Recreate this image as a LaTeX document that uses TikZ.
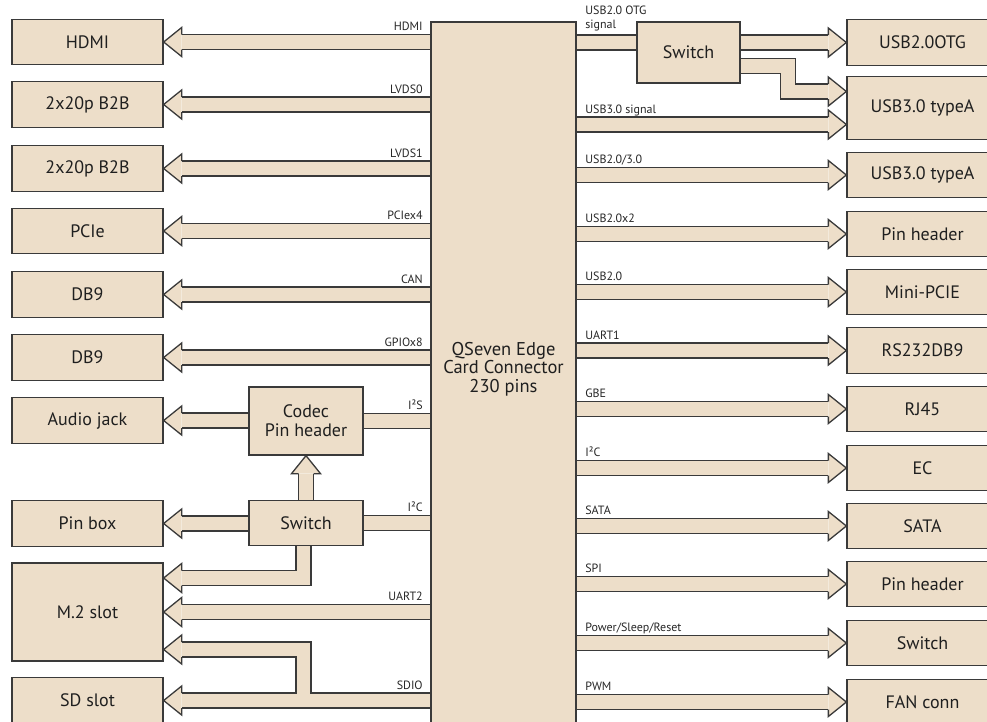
\documentclass[tikz,border=0pt]{standalone}
\usepackage{fontspec}
\setmainfont{PT Sans}
\usetikzlibrary{backgrounds}
\definecolor{boxfill}{RGB}{237,222,201}
\definecolor{boxline}{RGB}{58,58,58}
\tikzset{
  blk/.style={draw=boxline, fill=boxfill, line width=1.3pt, inner sep=0pt,
    minimum width=151pt, minimum height=45.5pt, align=center, text=black!88,
    font=\fontsize{18}{19}\selectfont},
  band/.style={draw=boxline, line width=1.3pt, double=boxfill,
    double distance=13.7pt, line join=miter},
  headfill/.style={fill=boxfill},
  headline/.style={draw=boxline, line width=1.3pt, line join=miter},
  sig/.style={font=\fontsize{12}{14}\selectfont, inner sep=0pt, text=black!85},
  lsig/.style={sig, anchor=base east, xshift=-7pt, yshift=11.5pt},
  rsig/.style={sig, anchor=base west, xshift=8pt, yshift=11.5pt},
  rsigtwo/.style={sig, anchor=south west, align=left, xshift=8pt, yshift=10.5pt}
}
% arrow heads, tip at #1
\newcommand{\headL}[1]{%
  \fill[headfill] (#1) -- ++(18pt,14.5pt) -- ++(0pt,-29pt) -- cycle;
  \draw[headline] (#1) ++(18pt,7.5pt) -- ++(0pt,7pt) -- (#1) -- ++(18pt,-14.5pt) -- ++(0pt,7pt);}
\newcommand{\headR}[1]{%
  \fill[headfill] (#1) -- ++(-18pt,14.5pt) -- ++(0pt,-29pt) -- cycle;
  \draw[headline] (#1) ++(-18pt,7.5pt) -- ++(0pt,7pt) -- (#1) -- ++(-18pt,-14.5pt) -- ++(0pt,7pt);}
\newcommand{\headU}[1]{%
  \fill[headfill] (#1) -- ++(14.5pt,-18pt) -- ++(-29pt,0pt) -- cycle;
  \draw[headline] (#1) ++(7.5pt,-18pt) -- ++(7pt,0pt) -- (#1) -- ++(-14.5pt,-18pt) -- ++(7pt,0pt);}
% fat arrows: from #1 to tip #2, signal name #3
\newcommand{\fatL}[3]{%
  \draw[band] (#1) -- node[pos=0, lsig] {#3} ([xshift=18pt]#2);
  \headL{#2}}
\newcommand{\fatR}[3]{%
  \draw[band] (#1) -- node[pos=0, rsig] {#3} ([xshift=-18pt]#2);
  \headR{#2}}
\begin{document}
\begin{tikzpicture}[x=1pt, y=-1pt]
  \useasboundingbox (0,0) rectangle (987,721);
  % edge card connector
  \node[blk, minimum width=145pt, minimum height=716pt] (C) at (503.5,380) {};
  \node[align=center, text=black!88, font=\fontsize{18.5}{18.5}\selectfont] (Ctxt) at (503.5,369)
    {QSeven Edge\\Card Connector\\230 pins};

  % left side
  \node[blk] (hdmi)   at (87.5,42)    {HDMI};
  \node[blk] (lvdsa)  at (87.5,104.5) {2x20p B2B};
  \node[blk] (lvdsb)  at (87.5,168.5) {2x20p B2B};
  \node[blk] (pcie)   at (87.5,231)   {PCIe};
  \node[blk] (can)    at (87.5,294.5) {DB9};
  \node[blk] (gpio)   at (87.5,357.5) {DB9};
  \node[blk] (audio)  at (87.5,420.5) {Audio jack};
  \node[blk] (pinbox) at (87.5,523.5) {Pin box};
  \node[blk, minimum height=98pt] (m2) at (87.5,612) {M.2 slot};
  \node[blk] (sd)     at (87.5,700.5) {SD slot};
  \node[blk, minimum width=114pt, minimum height=68pt] (codec) at (306,421) {Codec\\Pin header};
  \node[blk, minimum width=114pt] (swl) at (306,523) {Switch};

  % right side
  \node[blk, minimum width=103pt, minimum height=61pt] (swt) at (688.5,52.5) {Switch};
  \node[blk] (otg)   at (922.5,42.5) {USB2.0OTG};
  \node[blk, minimum height=63pt] (usba) at (922.5,108) {USB3.0 typeA};
  \node[blk] (usbb)  at (922.5,175)   {USB3.0 typeA};
  \node[blk] (pinha) at (922.5,234)   {Pin header};
  \node[blk] (mpcie) at (922.5,292)   {Mini-PCIE};
  \node[blk] (rs)    at (922.5,350.5) {RS232DB9};
  \node[blk] (rj)    at (922.5,409)   {RJ45};
  \node[blk] (ec)    at (922.5,468)   {EC};
  \node[blk] (sata)  at (922.5,526)   {SATA};
  \node[blk] (pinhb) at (922.5,584)   {Pin header};
  \node[blk] (swr)   at (922.5,643)   {Switch};
  \node[blk] (fan)   at (922.5,702)   {FAN conn};

  \coordinate (usba-in1) at ([yshift=16.5pt]usba.west);
  \coordinate (usba-in2) at ([yshift=-16.5pt]usba.west);
  \coordinate (m2-in1) at ([yshift=34pt]m2.east);
  \coordinate (m2-in3) at ([yshift=-37.5pt]m2.east);
  \coordinate (sdio-split) at (303.5,700.5);

  \begin{scope}[on background layer]
    % signals to the left
    \fatL{C.west |- hdmi.east}{hdmi.east}{HDMI}
    \fatL{C.west |- lvdsa.east}{lvdsa.east}{LVDS0}
    \fatL{C.west |- lvdsb.east}{lvdsb.east}{LVDS1}
    \fatL{C.west |- pcie.east}{pcie.east}{PCIex4}
    \fatL{C.west |- can.east}{can.east}{CAN}
    \fatL{C.west |- gpio.east}{gpio.east}{GPIOx8}
    \draw[band] (codec.east) -- node[pos=1, lsig] {I²S} (C.west |- codec.east);
    \fatL{codec.west |- audio.east}{audio.east}{}
    \draw[band] (swl.east) -- node[pos=1, lsig] {I²C} (C.west |- swl.east);
    \fatL{swl.west |- pinbox.east}{pinbox.east}{}
    \draw[band] (swl.north) -- ([yshift=-18pt]codec.south);
    \headU{codec.south}
    \draw[band] ([xshift=-2.5pt]swl.south) |- ([xshift=18pt]m2-in1);
    \headL{m2-in1}
    \fatL{C.west |- m2.east}{m2.east}{UART2}
    \draw[band] (C.west |- sd.east) -- node[pos=0, lsig] {SDIO} ([xshift=18pt]sd.east)
      (sdio-split) |- ([xshift=18pt]m2-in3);
    \headL{sd.east}
    \headL{m2-in3}

    % signals to the right
    \draw[band] (C.east |- otg.west) -- node[pos=0, rsigtwo] {USB2.0 OTG\\signal} (swt.west |- otg.west);
    \fatR{swt.east |- otg.west}{otg.west}{}
    \draw[band] ([yshift=18pt]swt.south east) -- ++(47,0) |- ([xshift=-18pt]usba-in1);
    \headR{usba-in1}
    \fatR{C.east |- usba-in2}{usba-in2}{USB3.0 signal}
    \fatR{C.east |- usbb.west}{usbb.west}{USB2.0/3.0}
    \fatR{C.east |- pinha.west}{pinha.west}{USB2.0x2}
    \fatR{C.east |- mpcie.west}{mpcie.west}{USB2.0}
    \fatR{C.east |- rs.west}{rs.west}{UART1}
    \fatR{C.east |- rj.west}{rj.west}{GBE}
    \fatR{C.east |- ec.west}{ec.west}{I²C}
    \fatR{C.east |- sata.west}{sata.west}{SATA}
    \fatR{C.east |- pinhb.west}{pinhb.west}{SPI}
    \fatR{C.east |- swr.west}{swr.west}{Power/Sleep/Reset}
    \fatR{C.east |- fan.west}{fan.west}{PWM}
  \end{scope}
\end{tikzpicture}
\end{document}
